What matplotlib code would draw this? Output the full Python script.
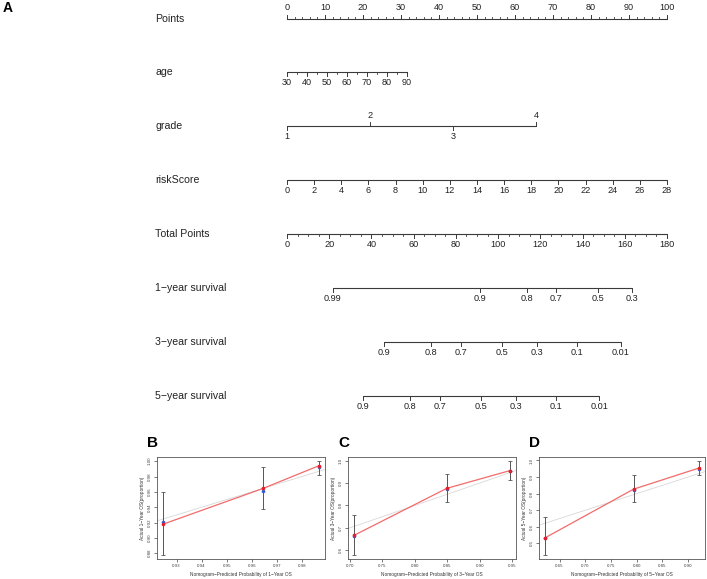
import numpy as np
import matplotlib
matplotlib.use('Agg')
import matplotlib.pyplot as plt
import matplotlib.transforms as mtransforms

plt.rcParams['font.family'] = ['Liberation Sans', 'DejaVu Sans']

# ---- nomogram scales (positions in "Points", 0-100) ----
points_major = list(range(0, 101, 10))
points_minor = list(range(0, 101, 2))

age_major = [30, 40, 50, 60, 70, 80, 90]
age_minor = list(range(30, 91, 5))
age_ends = [30, 90]
age_ends_pts = [0, 31.6]

grade_vals = [1, 2, 3, 4]
grade_pts = [0, 21.8, 43.7, 65.5]

risk_major = list(range(0, 29, 2))
risk_ends = [0, 28]
risk_ends_pts = [0, 100]

total_major = list(range(0, 181, 20))
total_minor = list(range(0, 181, 5))
total_max = 180

# survival probabilities and their position on the Total Points scale
surv1_labels = ['0.99', '0.9', '0.8', '0.7', '0.5', '0.3']
surv1_total = [21.7, 91.6, 113.8, 127.5, 147.4, 163.5]
surv3_labels = ['0.9', '0.8', '0.7', '0.5', '0.3', '0.1', '0.01']
surv3_total = [46.0, 68.4, 82.2, 101.7, 118.3, 137.3, 158.1]
surv5_labels = ['0.9', '0.8', '0.7', '0.5', '0.3', '0.1', '0.01']
surv5_total = [36.0, 58.4, 72.3, 92.0, 108.5, 127.4, 147.9]

row_names = ['Points', 'age', 'grade', 'riskScore', 'Total Points',
             '1\u2212year survival', '3\u2212year survival', '5\u2212year survival']

# ---- calibration data: predicted, observed (red), corrected (blue), CI ----
calB_pred = [0.9247, 0.9645, 0.9867]
calB_obs = [0.918, 0.9645, 0.994]
calB_cor = [0.921, 0.9614, 0.992]
calB_lo = [0.8775, 0.938, 0.9825]
calB_hi = [0.960, 0.993, 1.0005]

calC_pred = [0.7066, 0.849, 0.946]
calC_obs = [0.667, 0.876, 0.955]
calC_cor = [0.665, 0.873, 0.952]
calC_lo = [0.578, 0.817, 0.912]
calC_hi = [0.759, 0.942, 0.999]

calD_pred = [0.622, 0.794, 0.921]
calD_obs = [0.534, 0.827, 0.954]
calD_cor = [0.533, 0.822, 0.948]
calD_lo = [0.429, 0.752, 0.915]
calD_hi = [0.662, 0.911, 0.998]

W, H = 707, 579
fig = plt.figure(figsize=(W / 100, H / 100), dpi=100)

# nomogram axes covers top part of the figure, x in Points units
top_px = 430
ax = fig.add_axes([0, 1 - top_px / H, 1, top_px / H])
px_per_pt = 3.8
x0_px = 287
ax.set_xlim(-x0_px / px_per_pt, (W - x0_px) / px_per_pt)
row_px = 53.9
first_px = 18.5
ax.set_ylim((top_px - first_px) / row_px, -first_px / row_px)
ax.axis('off')

lc = '#3a3a3a'
tmaj = 4.0 / row_px
tmin = 2.0 / row_px
loff = 10.5 / row_px
tick_fs = 6.6


def scale_row(row, pos, labels, up_flags, minor=None):
    ax.plot([min(pos), max(pos)], [row, row], color=lc, lw=0.8,
            solid_capstyle='butt')
    if minor is not None:
        for m in minor:
            d = -tmin if up_flags[0] else tmin
            ax.plot([m, m], [row, row + d], color=lc, lw=0.6)
    for p, lab, up in zip(pos, labels, up_flags):
        d = -tmaj if up else tmaj
        ax.plot([p, p], [row, row + d], color=lc, lw=0.7)
        ax.text(p, row - loff if up else row + loff, lab, ha='center',
                va='center', fontsize=tick_fs, color='#222222')


tr = mtransforms.blended_transform_factory(ax.transAxes, ax.transData)
for i, name in enumerate(row_names):
    ax.text(155 / W, i, name, transform=tr, ha='left', va='center',
            fontsize=7.6, color='#222222')

# Points
scale_row(0, points_major, [str(v) for v in points_major],
          [True] * len(points_major), minor=points_minor)
# age
age_pos = np.interp(age_major, age_ends, age_ends_pts)
scale_row(1, age_pos, [str(v) for v in age_major], [False] * len(age_major),
          minor=np.interp(age_minor, age_ends, age_ends_pts))
# grade
scale_row(2, grade_pts, [str(v) for v in grade_vals], [False, True, False, True])
# riskScore
risk_pos = np.interp(risk_major, risk_ends, risk_ends_pts)
scale_row(3, risk_pos, [str(v) for v in risk_major], [False] * len(risk_major))
# Total Points
to_pts = 100 / total_max
scale_row(4, [v * to_pts for v in total_major], [str(v) for v in total_major],
          [False] * len(total_major), minor=[v * to_pts for v in total_minor])
# survival rows
for r, labs, tot in [(5, surv1_labels, surv1_total),
                     (6, surv3_labels, surv3_total),
                     (7, surv5_labels, surv5_total)]:
    scale_row(r, [v * to_pts for v in tot], labs, [False] * len(labs))

fig.text(3 / W, 1 - 8 / H, 'A', fontsize=10, fontweight='bold', va='center')


# ---- calibration plots ----
def calib(rect, letter, pred, obs, cor, lo, hi, year, xt, yt, xfmt, yfmt):
    l, r, t, b = rect
    a = fig.add_axes([l / W, 1 - b / H, (r - l) / W, (b - t) / H])
    a.errorbar(pred, obs, yerr=[np.array(obs) - np.array(lo),
                                np.array(hi) - np.array(obs)],
               fmt='none', ecolor='#555555', elinewidth=0.7, capsize=1.5,
               capthick=0.6, zorder=2)
    a.plot(pred, obs, color='#f26b6b', lw=0.9, zorder=3)
    a.plot(pred, cor, 'o', color='#3b5bd6', ms=1.6, zorder=4)
    a.plot(pred, obs, 'o', color='#e0202a', ms=1.6, zorder=5)
    a.margins(0.04)
    a.autoscale_view()
    a.set_xlim(a.get_xlim())
    a.set_ylim(a.get_ylim())
    # ideal line
    a.axline((0.5, 0.5), slope=1, color='#d8d8d8', lw=0.6, zorder=1)
    a.set_xticks(xt)
    a.set_yticks(yt)
    a.set_xticklabels([xfmt % v for v in xt])
    a.set_yticklabels([yfmt % v for v in yt], rotation=90, va='center')
    a.tick_params(labelsize=3.2, length=2, width=0.5, pad=1.5,
                  colors='#444444')
    for s in a.spines.values():
        s.set_linewidth(0.6)
        s.set_color('#555555')
    a.set_xlabel('Nomogram\u2212Predicted Probability of %d\u2212Year OS' % year,
                 fontsize=3.4, labelpad=3, color='#333333')
    a.set_ylabel('Actual %d\u2212Year OS(proportion)' % year, fontsize=3.4,
                 labelpad=2, color='#333333')
    fig.text((l - 10) / W, 1 - (t - 14) / H, letter, fontsize=11,
             fontweight='bold', va='center', ha='left')
    return a


calib((157, 325, 457, 559), 'B', calB_pred, calB_obs, calB_cor, calB_lo,
      calB_hi, 1, [0.93, 0.94, 0.95, 0.96, 0.97, 0.98],
      [0.88, 0.90, 0.92, 0.94, 0.96, 0.98, 1.00], '%.2f', '%.2f')
calib((348, 516, 457, 559), 'C', calC_pred, calC_obs, calC_cor, calC_lo,
      calC_hi, 3, [0.70, 0.75, 0.80, 0.85, 0.90, 0.95],
      [0.6, 0.7, 0.8, 0.9, 1.0], '%.2f', '%.1f')
calib((539, 705, 457, 559), 'D', calD_pred, calD_obs, calD_cor, calD_lo,
      calD_hi, 5, [0.65, 0.70, 0.75, 0.80, 0.85, 0.90],
      [0.5, 0.6, 0.7, 0.8, 0.9, 1.0], '%.2f', '%.1f')

fig.savefig('out.png', dpi=100)
